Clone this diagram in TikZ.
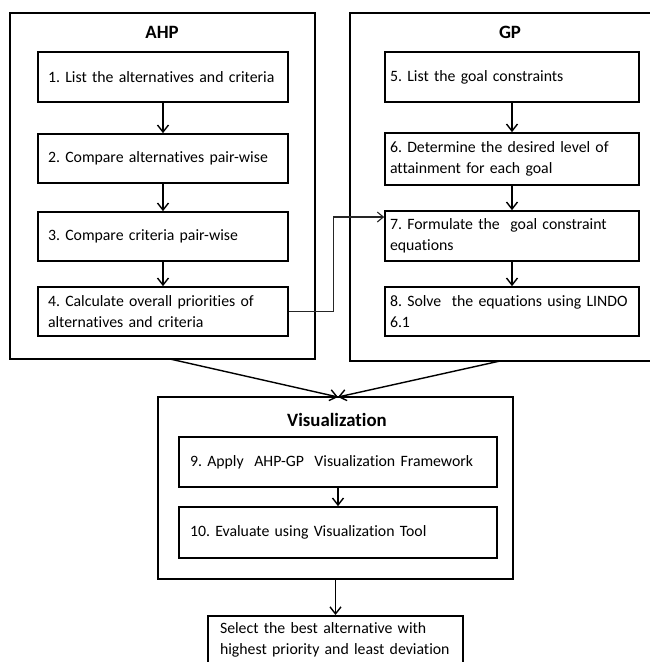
\documentclass[tikz,border=0pt]{standalone}
\usepackage{fontspec}
\setmainfont{Carlito}[Ligatures=NoCommon]
\usetikzlibrary{arrows.meta}
\frenchspacing
\newcommand\myBody{\fontsize{15.8}{20.5}\selectfont}
\newcommand\myTitle{\fontsize{18.8}{22}\selectfont\bfseries}
\tikzset{
  outerbox/.style={draw, line width=2.2pt, inner sep=0pt, outer sep=0pt},
  stepbox/.style={draw, line width=1.7pt, align=left, inner ysep=0pt, font=\myBody},
  ahpbox/.style={stepbox, inner xsep=10pt, minimum width=250pt, text width=230pt},
  gpbox/.style={stepbox, inner xsep=5pt, minimum width=254pt, text width=244pt},
  visbox/.style={stepbox, inner xsep=11pt, minimum width=318pt, text width=296pt},
  titletext/.style={font=\myTitle, inner sep=0pt},
  arr/.style={line width=1.4pt, -{Straight Barb[length=7pt,width=11pt,line width=1.4pt]}},
  conn/.style={line width=1.1pt, black!85, -{Straight Barb[length=6pt,width=10pt,line width=1.1pt]}}
}
\begin{document}
\begin{tikzpicture}[x=1pt,y=-1pt]
\useasboundingbox (0,0) rectangle (650,662);
\fill[white] (0,0) rectangle (650,662);

% outer frames
\node[outerbox, minimum width=305pt, minimum height=346pt] (ahp) at (162.5,186) {};
\node[outerbox, minimum width=310pt, minimum height=348pt] (gp) at (505,187) {};
\node[outerbox, minimum width=355pt, minimum height=182pt] (viz) at (335.5,488) {};

% titles
\node[titletext] (ahpT) at (162,32) {AHP};
\node[titletext] (gpT) at (510,32) {GP};
\node[titletext] (vizT) at (337,420) {Visualization};

% AHP steps
\node[ahpbox, minimum height=50pt] (b1) at (163,77) {1. List the alternatives and criteria};
\node[ahpbox, minimum height=49pt] (b2) at (163,158.5) {2. Compare alternatives pair-wise};
\node[ahpbox, minimum height=49pt] (b3) at (163,236.5) {3. Compare criteria pair-wise};
\node[ahpbox, minimum height=49pt] (b4) at (163,311.5) {4. Calculate overall priorities of\\alternatives and criteria};

% GP steps
\node[gpbox, minimum height=50pt] (b5) at (512,77) {5. List the goal constraints};
\node[gpbox, minimum height=52pt] (b6) at (512,159) {6. Determine the desired level of\\attainment for each goal};
\node[gpbox, minimum height=50pt] (b7) at (512,236) {7. Formulate the\ \ goal constraint\\equations};
\node[gpbox, minimum height=49pt] (b8) at (512,311.5) {8. Solve\ \ the equations using LINDO\\6.1};

% Visualization steps
\node[visbox, minimum height=50pt] (b9) at (338,462) {9. Apply\ \ AHP-GP\ \ Visualization Framework};
\node[visbox, minimum height=51pt] (b10) at (338,532.5) {10. Evaluate using Visualization Tool};

% final
\node[stepbox, anchor=north, inner xsep=12pt, inner ysep=7pt, minimum width=255pt, text width=231pt] (fin) at (335.5,615) {Select the best alternative with\\highest priority and least deviation};

% arrows
\draw[arr] (b1) -- (b2);
\draw[arr] (b2) -- (b3);
\draw[arr] (b3) -- (b4);
\draw[arr] (b5) -- (b6);
\draw[arr] (b6) -- (b7);
\draw[arr] (b7) -- (b8);
\draw[arr] (b9) -- (b10);
\draw[conn] (b4.east) -- ++(45,0) |- ([yshift=19pt]b7.west);
\draw[arr] ([xshift=7.5pt]ahp.south) -- ([xshift=2.5pt]viz.north);
\draw[arr] ([xshift=-5pt]gp.south) -- ([xshift=2.5pt]viz.north);
\draw[arr] (viz.south) -- (fin.north);
\end{tikzpicture}
\end{document}
